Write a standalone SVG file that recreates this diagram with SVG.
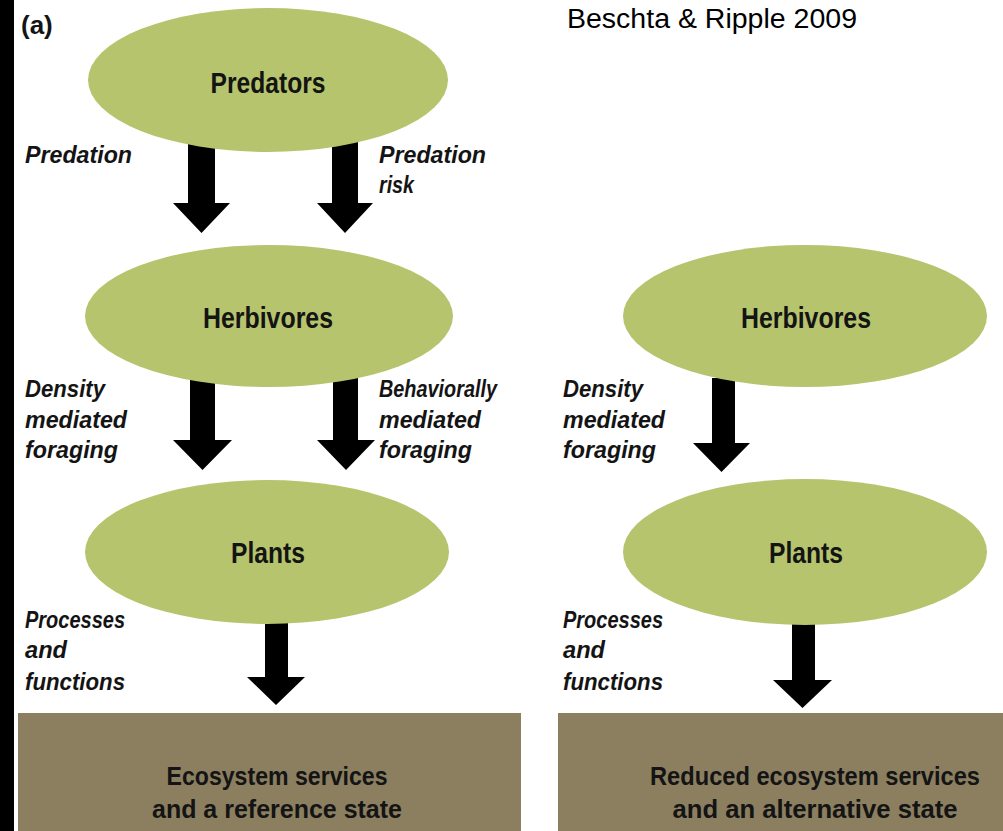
<svg xmlns="http://www.w3.org/2000/svg" width="1003" height="831" viewBox="0 0 1003 831">
<style>
.node{fill:#b6c46e}
.box{fill:#8b7f60}
.title{font-family:"Liberation Sans",Arial,sans-serif;font-weight:bold;font-size:29px;fill:#141414;text-anchor:middle}
.boxt{font-family:"Liberation Sans",Arial,sans-serif;font-weight:bold;font-size:26px;fill:#141414;text-anchor:middle}
.lbl{font-family:"Liberation Sans",Arial,sans-serif;font-weight:bold;font-style:italic;font-size:23px;fill:#141414}
.arrow{fill:#000}
</style>
<rect x="0" y="0" width="1003" height="831" fill="#fff"/>
<rect x="0" y="0" width="14" height="831" fill="#000"/>
<text x="21" y="34" style="font-family:'Liberation Sans',Arial,sans-serif;font-weight:bold;font-size:26px;fill:#141414">(a)</text>
<text x="567" y="28" textLength="290" lengthAdjust="spacingAndGlyphs" style="font-family:'Liberation Sans',Arial,sans-serif;font-size:27px;fill:#000">Beschta &amp; Ripple 2009</text>

<g id="connectors">
<polygon class="arrow" points="188,140 215,140 215,203 230,203 201.5,233 173,203 188,203"/>
<polygon class="arrow" points="332,140 358,140 358,203 373,203 345,233 317,203 332,203"/>
<polygon class="arrow" points="190,378 215,378 215,440 232,440 202.5,470 173,440 190,440"/>
<polygon class="arrow" points="333,378 358,378 358,440 375,440 346,470 317,440 333,440"/>
<polygon class="arrow" points="265,615 288,615 288,677 305,677 276,705 247,677 265,677"/>
<polygon class="arrow" points="712,378 735,378 735,443 750,443 721.5,472 693,443 712,443"/>
<polygon class="arrow" points="792,615 815,615 815,680 832,680 802.5,708 773,680 792,680"/>
</g>

<g id="labels">
<text class="lbl" x="25" y="163" textLength="107" lengthAdjust="spacingAndGlyphs">Predation</text>
<text class="lbl" x="379" y="163" textLength="107" lengthAdjust="spacingAndGlyphs">Predation</text>
<text class="lbl" x="379" y="193" textLength="35" lengthAdjust="spacingAndGlyphs">risk</text>
<text class="lbl" x="25" y="397" textLength="80" lengthAdjust="spacingAndGlyphs">Density</text>
<text class="lbl" x="25" y="428" textLength="102" lengthAdjust="spacingAndGlyphs">mediated</text>
<text class="lbl" x="25" y="458" textLength="93" lengthAdjust="spacingAndGlyphs">foraging</text>
<text class="lbl" x="379" y="397" textLength="118" lengthAdjust="spacingAndGlyphs">Behaviorally</text>
<text class="lbl" x="379" y="428" textLength="102" lengthAdjust="spacingAndGlyphs">mediated</text>
<text class="lbl" x="379" y="458" textLength="93" lengthAdjust="spacingAndGlyphs">foraging</text>
<text class="lbl" x="563" y="397" textLength="80" lengthAdjust="spacingAndGlyphs">Density</text>
<text class="lbl" x="563" y="428" textLength="102" lengthAdjust="spacingAndGlyphs">mediated</text>
<text class="lbl" x="563" y="458" textLength="93" lengthAdjust="spacingAndGlyphs">foraging</text>
<text class="lbl" x="25" y="628" textLength="100" lengthAdjust="spacingAndGlyphs">Processes</text>
<text class="lbl" x="25" y="658" textLength="42" lengthAdjust="spacingAndGlyphs">and</text>
<text class="lbl" x="25" y="690" textLength="100" lengthAdjust="spacingAndGlyphs">functions</text>
<text class="lbl" x="563" y="628" textLength="100" lengthAdjust="spacingAndGlyphs">Processes</text>
<text class="lbl" x="563" y="658" textLength="42" lengthAdjust="spacingAndGlyphs">and</text>
<text class="lbl" x="563" y="690" textLength="100" lengthAdjust="spacingAndGlyphs">functions</text>
</g>

<g id="predators">
<ellipse class="node" cx="268" cy="80" rx="180" ry="72"/>
<text class="title" x="268" y="93" textLength="115" lengthAdjust="spacingAndGlyphs">Predators</text>
</g>
<g id="herbivores-a">
<ellipse class="node" cx="269" cy="316" rx="184" ry="71"/>
<text class="title" x="268" y="328" textLength="130" lengthAdjust="spacingAndGlyphs">Herbivores</text>
</g>
<g id="plants-a">
<ellipse class="node" cx="267" cy="552" rx="182" ry="72"/>
<text class="title" x="268" y="563" textLength="74" lengthAdjust="spacingAndGlyphs">Plants</text>
</g>
<g id="herbivores-b">
<ellipse class="node" cx="805" cy="316" rx="182" ry="71"/>
<text class="title" x="806" y="328" textLength="130" lengthAdjust="spacingAndGlyphs">Herbivores</text>
</g>
<g id="plants-b">
<ellipse class="node" cx="805" cy="552" rx="182" ry="73"/>
<text class="title" x="806" y="563" textLength="74" lengthAdjust="spacingAndGlyphs">Plants</text>
</g>
<g id="state-a">
<rect class="box" x="18" y="713" width="503" height="118"/>
<text class="boxt" x="277" y="785" textLength="221" lengthAdjust="spacingAndGlyphs">Ecosystem services</text>
<text class="boxt" x="277" y="818" textLength="250" lengthAdjust="spacingAndGlyphs">and a reference state</text>
</g>
<g id="state-b">
<rect class="box" x="558" y="713" width="445" height="118"/>
<text class="boxt" x="815" y="785" textLength="330" lengthAdjust="spacingAndGlyphs">Reduced ecosystem services</text>
<text class="boxt" x="815" y="818" textLength="285" lengthAdjust="spacingAndGlyphs">and an alternative state</text>
</g>
</svg>
